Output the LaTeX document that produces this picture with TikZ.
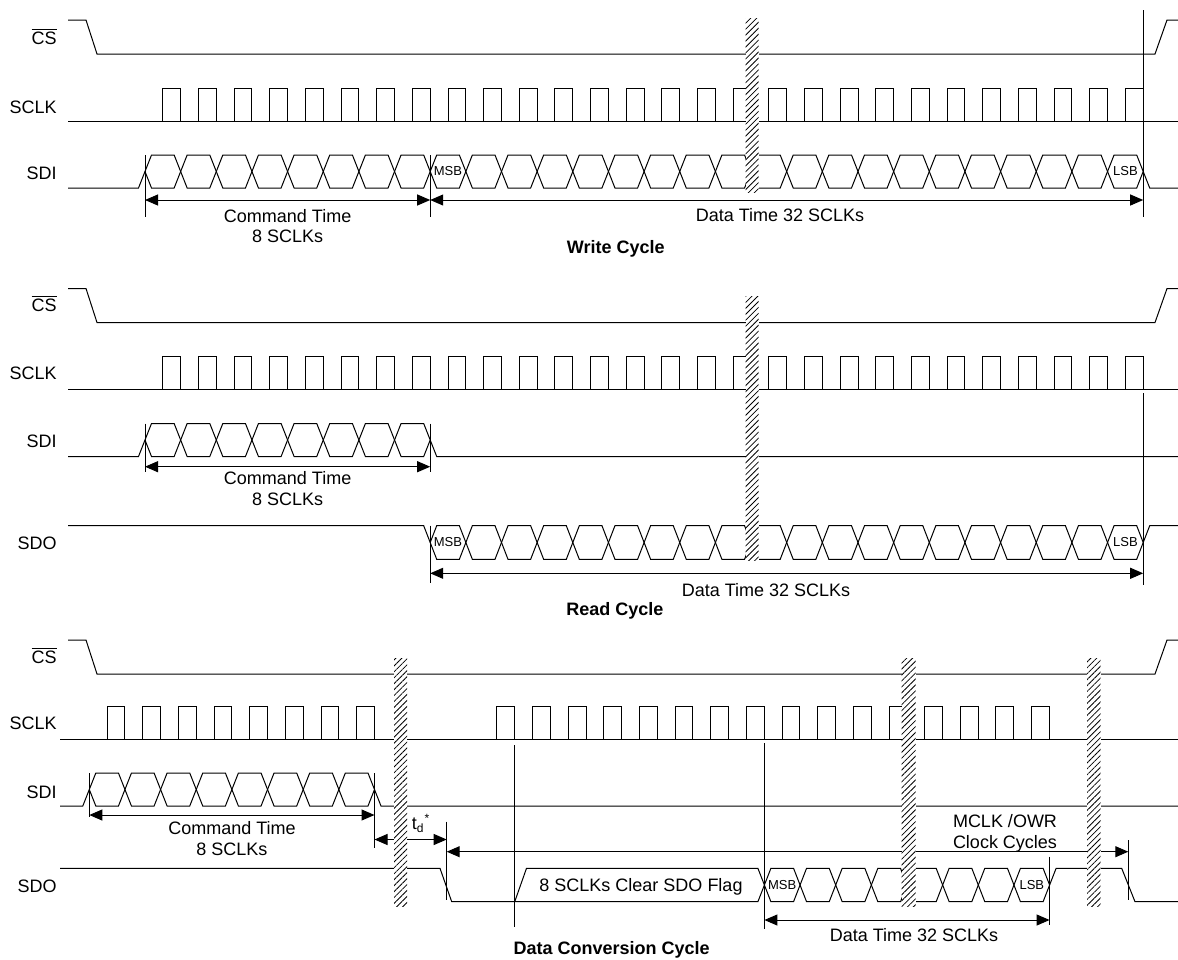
\documentclass[tikz,border=0pt]{standalone}
\usepackage{fontspec}
\setmainfont{Liberation Sans}
\usetikzlibrary{arrows.meta, patterns.meta}

% one SCLK period is 35.65 units
\newcommand{\clockpulses}[4]{% first falling edge - period, pulses, high, low
  \foreach \k in {1,...,#2}{%
    \pgfmathsetmacro{\xr}{#1+(\k-0.5)*35.65}%
    \pgfmathsetmacro{\xf}{#1+\k*35.65}%
    \draw[sig] (\xr,#4) -- (\xr,#3) -- (\xf,#3) -- (\xf,#4);
  }}
\newcommand{\buscells}[4]{% first crossing, cells, top, bottom
  \foreach \k in {1,...,#2}{%
    \pgfmathsetmacro{\xa}{#1+(\k-1)*35.65}%
    \pgfmathsetmacro{\xb}{\xa+35.65}%
    \pgfmathsetmacro{\ym}{(#3+#4)/2}%
    \draw[sig] (\xa,\ym) -- (\xa+6.5,#3) -- (\xb-6.5,#3) -- (\xb,\ym) -- (\xb-6.5,#4) -- (\xa+6.5,#4) -- cycle;
  }}

\begin{document}
\begin{tikzpicture}[x=0.5pt, y=-0.5pt,
				sig/.style={line width=0.5pt},
				dimline/.style={line width=0.5pt, {Triangle[length=6.5pt,width=5.5pt]}-{Triangle[length=6.5pt,width=5.5pt]}},
				hatch/.style={preaction={fill=white}, pattern={Lines[angle=45,distance=2.1pt,line width=0.4pt]}},
				signame/.style={anchor=base east, inner sep=0pt, font=\fontsize{9}{10.3}\selectfont},
				txt/.style={inner sep=0pt, align=center, font=\fontsize{9}{10.3}\selectfont},
				bit/.style={inner sep=0pt, font=\fontsize{6.5}{7}\selectfont},
				cycletitle/.style={anchor=base, inner sep=0pt, font=\fontsize{9}{10.3}\selectfont\bfseries}]
				
				\useasboundingbox (0,0) rectangle (1178,959);
				
				\begin{scope} % write cycle
					\node[signame] (w-cs) at (57,44.4) {$\overline{\mbox{CS}}$};
					\node[signame] (w-sclk) at (57,113) {SCLK};
					\node[signame] (w-sdi) at (57,179.4) {SDI};
					
					\draw[sig] (68,20) -- (86,20) -- (97,54) -- (1155,54) -- (1167,20) -- (1178,20);
					\draw[sig] (68,121) -- (1178,121);
					\clockpulses{145}{28}{88}{121}
					\draw[sig] (68,188) -- (138.5,188) -- (145,171.5);
					\buscells{145}{28}{155}{188}
					\draw[sig] (1143.2,171.5) -- (1149.7,188) -- (1178,188);
					\node[bit] (w-msb) at (448,171.5) {MSB};
					\node[bit] (w-lsb) at (1125.4,171.5) {LSB};
					
					\coordinate (w-cmd-l) at (145,200);
					\coordinate (w-cmd-r) at (430.2,200);
					\coordinate (w-dat-r) at (1143.2,200);
					\draw[sig] (145,155) -- (145,217);
					\draw[sig] (430.2,155) -- (430.2,217);
					\draw[sig] (1143.2,10) -- (1143.2,217);
					\draw[dimline] (w-cmd-l) -- (w-cmd-r);
					\draw[dimline] (w-cmd-r) -- (w-dat-r);
					\node[txt, anchor=north] (w-cmd) at (287.6,208.6) {Command Time\\8 SCLKs};
					\node[txt, anchor=base] (w-dat) at (780,221.4) {Data Time 32 SCLKs};
					\node[cycletitle] (w-title) at (615.7,253.4) {Write Cycle};
					
					\fill[hatch] (745.5,18) rectangle (758.5,192.5);
				\end{scope}
				
				\begin{scope}[shift={(0,268.5)}] % read cycle
					\node[signame] (r-cs) at (57,42.9) {$\overline{\mbox{CS}}$};
					\node[signame] (r-sclk) at (57,110.6) {SCLK};
					\node[signame] (r-sdi) at (57,178.9) {SDI};
					\node[signame] (r-sdo) at (57,280.6) {SDO};
					
					\draw[sig] (68,20) -- (86,20) -- (97,54) -- (1155,54) -- (1167,20) -- (1178,20);
					\draw[sig] (68,121) -- (1178,121);
					\clockpulses{145}{28}{88}{121}
					\draw[sig] (68,188) -- (138.5,188) -- (145,171.5);
					\buscells{145}{8}{155}{188}
					\draw[sig] (430.2,171.5) -- (436.7,188) -- (1178,188);
					\draw[sig] (68,257.2) -- (423.7,257.2) -- (430.2,274);
					\buscells{430.2}{20}{257.2}{290.8}
					\draw[sig] (1143.2,274) -- (1149.7,257.2) -- (1178,257.2);
					\node[bit] (r-msb) at (448,274) {MSB};
					\node[bit] (r-lsb) at (1125.4,274) {LSB};
					
					\coordinate (r-cmd-l) at (145,198.2);
					\coordinate (r-cmd-r) at (430.2,198.2);
					\coordinate (r-dat-l) at (430.2,304.8);
					\coordinate (r-dat-r) at (1143.2,304.8);
					\draw[sig] (145,155) -- (145,203);
					\draw[sig] (430.2,155) -- (430.2,203);
					\draw[sig] (430.2,257.2) -- (430.2,314.8);
					\draw[sig] (1143.2,124.5) -- (1143.2,316.5);
					\draw[dimline] (r-cmd-l) -- (r-cmd-r);
					\draw[dimline] (r-dat-l) -- (r-dat-r);
					\node[txt, anchor=north] (r-cmd) at (287.6,202.5) {Command Time\\8 SCLKs};
					\node[txt, anchor=base] (r-dat) at (766,327.8) {Data Time 32 SCLKs};
					\node[cycletitle] (r-title) at (615,346.8) {Read Cycle};
					
					\fill[hatch] (745.5,27.5) rectangle (758.5,291.5);
				\end{scope}
				
				\begin{scope}[shift={(0,618)}] % data conversion cycle
					\node[signame] (c-cs) at (57,45.3) {$\overline{\mbox{CS}}$};
					\node[signame] (c-sclk) at (57,111) {SCLK};
					\node[signame] (c-sdi) at (57,180) {SDI};
					\node[signame] (c-sdo) at (57,274.3) {SDO};
					
					\draw[sig] (68,22) -- (86,22) -- (97,56) -- (1155,56) -- (1167,22) -- (1178,22);
					\draw[sig] (60,121) -- (1178,121);
					\clockpulses{89.3}{8}{88}{121}
					\clockpulses{479.05}{16}{88}{121}
					\draw[sig] (60,188) -- (82.8,188) -- (89.3,171.5);
					\buscells{89.3}{8}{155}{188}
					\draw[sig] (374.5,171.5) -- (381,188) -- (1178,188);
					\draw[sig] (60,250.3) -- (440,250.3) -- (451.7,283.7) -- (757.9,283.7) -- (764.4,267);
					\draw[sig] (514.7,283.7) -- (526.5,250.3) -- (757.9,250.3) -- (764.4,267);
					\buscells{764.4}{8}{250.3}{283.7}
					\draw[sig] (1049.6,267) -- (1056.1,250.3) -- (1121.7,250.3) -- (1135,283.7) -- (1178,283.7);
					\node[bit] (c-msb) at (782.2,267) {MSB};
					\node[bit] (c-lsb) at (1031.8,267) {LSB};
					\node[txt, anchor=base] (c-flag) at (641,273.4) {8 SCLKs Clear SDO Flag};
					
					\coordinate (c-cmd-l) at (89.3,197);
					\coordinate (c-cmd-r) at (374.5,197);
					\coordinate (c-td-l) at (374.5,221.5);
					\coordinate (c-td-r) at (446.7,221.5);
					\coordinate (c-mclk-l) at (446.7,233.7);
					\coordinate (c-mclk-r) at (1128.3,233.7);
					\coordinate (c-dat-l) at (764.4,302);
					\coordinate (c-dat-r) at (1049.6,302);
					\draw[sig] (89.3,155) -- (89.3,198.7);
					\draw[sig] (374.5,155) -- (374.5,230.3);
					\draw[sig] (446.7,203.7) -- (446.7,282);
					\draw[sig] (514.7,127) -- (514.7,308.7);
					\draw[sig] (764.4,125) -- (764.4,311);
					\draw[sig] (1049.6,238.7) -- (1049.6,307);
					\draw[sig] (1128.3,222) -- (1128.3,282);
					\draw[dimline] (c-cmd-l) -- (c-cmd-r);
					\draw[dimline] (c-td-l) -- (c-td-r);
					\draw[dimline] (c-mclk-l) -- (c-mclk-r);
					\draw[dimline] (c-dat-l) -- (c-dat-r);
					\node[txt, anchor=north] (c-cmd) at (232,203.3) {Command Time\\8 SCLKs};
					\node[txt] (c-td) at (421,205.3) {t\textsubscript{d}\textsuperscript{*}};
					\node[txt, anchor=north] (c-mclk) at (1005,196.3) {MCLK /OWR\\Clock Cycles};
					\node[txt, anchor=base] (c-dat) at (914,323.4) {Data Time 32 SCLKs};
					\node[cycletitle] (c-title) at (611.7,336.7) {Data Conversion Cycle};
					
					\fill[hatch] (394,40.3) rectangle (407,288.7);
					\fill[hatch] (901.7,40.3) rectangle (915.7,288.7);
					\fill[hatch] (1087,40.3) rectangle (1100.5,288.7);
				\end{scope}
			\end{tikzpicture}
\end{document}
